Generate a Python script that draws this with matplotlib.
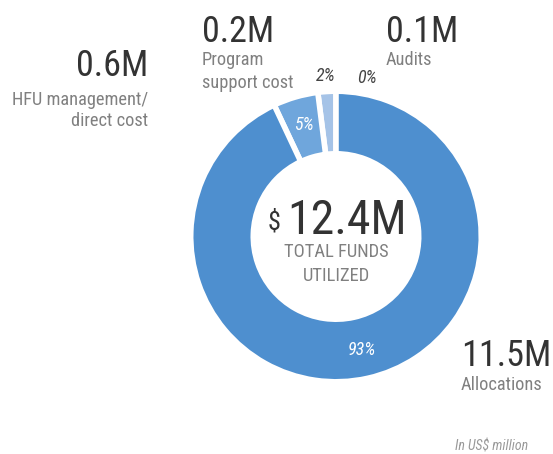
import matplotlib.pyplot as plt
import numpy as np

plt.rcParams['font.family'] = ['Roboto Condensed', 'Roboto', 'DejaVu Sans']

# data, counter-clockwise from the top
names = ['Audits', 'Program support cost', 'HFU management/direct cost', 'Allocations']
shares = [0, 2, 5, 93]
pct_labels = ['0%', '2%', '5%', '93%']
amounts = ['0.1M', '0.2M', '0.6M', '11.5M']
total = '12.4M'
colors = ['#c6d9f0', '#a5c3e7', '#6fa6dc', '#4e8fcf']

W, H = 553, 454
fig = plt.figure(figsize=(W / 100, H / 100), dpi=100)
ax = fig.add_axes([0, 0, 1, 1])

def y(v):
    # image row -> data y
    return H - v

cx, cy = 336, y(236.5)
lw = 4
R = 142.5 + lw / 2 * 100 / 72
r_in = 85.5 - lw / 2 * 100 / 72

wedges, _ = ax.pie(shares, colors=colors, startangle=90, counterclock=True,
                   center=(cx, cy), radius=R,
                   wedgeprops=dict(width=R - r_in, edgecolor='white', linewidth=lw))

ax.set_xlim(0, W)
ax.set_ylim(0, H)
ax.set_aspect('equal')
ax.axis('off')

# percentage labels
for w, lab in zip(wedges, pct_labels):
    mid = np.deg2rad((w.theta1 + w.theta2) / 2)
    if lab in ('5%', '93%'):
        rr, col = 116, 'white'
    else:
        rr, col = 161, '#444444'
    if lab == '0%':
        mid = np.deg2rad(79)
    ax.text(cx + rr * np.cos(mid), cy + rr * np.sin(mid), lab, color=col,
            fontsize=13, style='italic', ha='center', va='center')

big = dict(fontsize=26, color='#333333', va='baseline')
small = dict(fontsize=13.2, color='#808080', va='baseline')

ax.text(148, y(76), amounts[2], ha='right', **big)
ax.text(148, y(105), 'HFU management/', ha='right', **small)
ax.text(148, y(126), 'direct cost', ha='right', **small)

ax.text(202, y(42), amounts[1], ha='left', **big)
ax.text(202, y(65), 'Program', ha='left', **small)
ax.text(202, y(88), 'support cost', ha='left', **small)

ax.text(386, y(42), amounts[0], ha='left', **big)
ax.text(386, y(65), 'Audits', ha='left', **small)

ax.text(461, y(366), amounts[3], ha='left', **big)
ax.text(461, y(390), 'Allocations', ha='left', **small)

# centre
ax.text(cx - 49, y(234), total, ha='left', va='baseline', fontsize=34.5, color='#333333')
ax.text(cx - 55, y(229), '$', ha='right', va='baseline', fontsize=19, color='#333333')
ax.text(cx, y(257), 'TOTAL FUNDS', ha='center', va='baseline', fontsize=13.3, color='#808080')
ax.text(cx, y(281), 'UTILIZED', ha='center', va='baseline', fontsize=13.3, color='#808080')

ax.text(528, y(450), 'In US$ million', ha='right', va='baseline', fontsize=10,
        style='italic', color='#999999')

fig.savefig('out.png', dpi=100)
